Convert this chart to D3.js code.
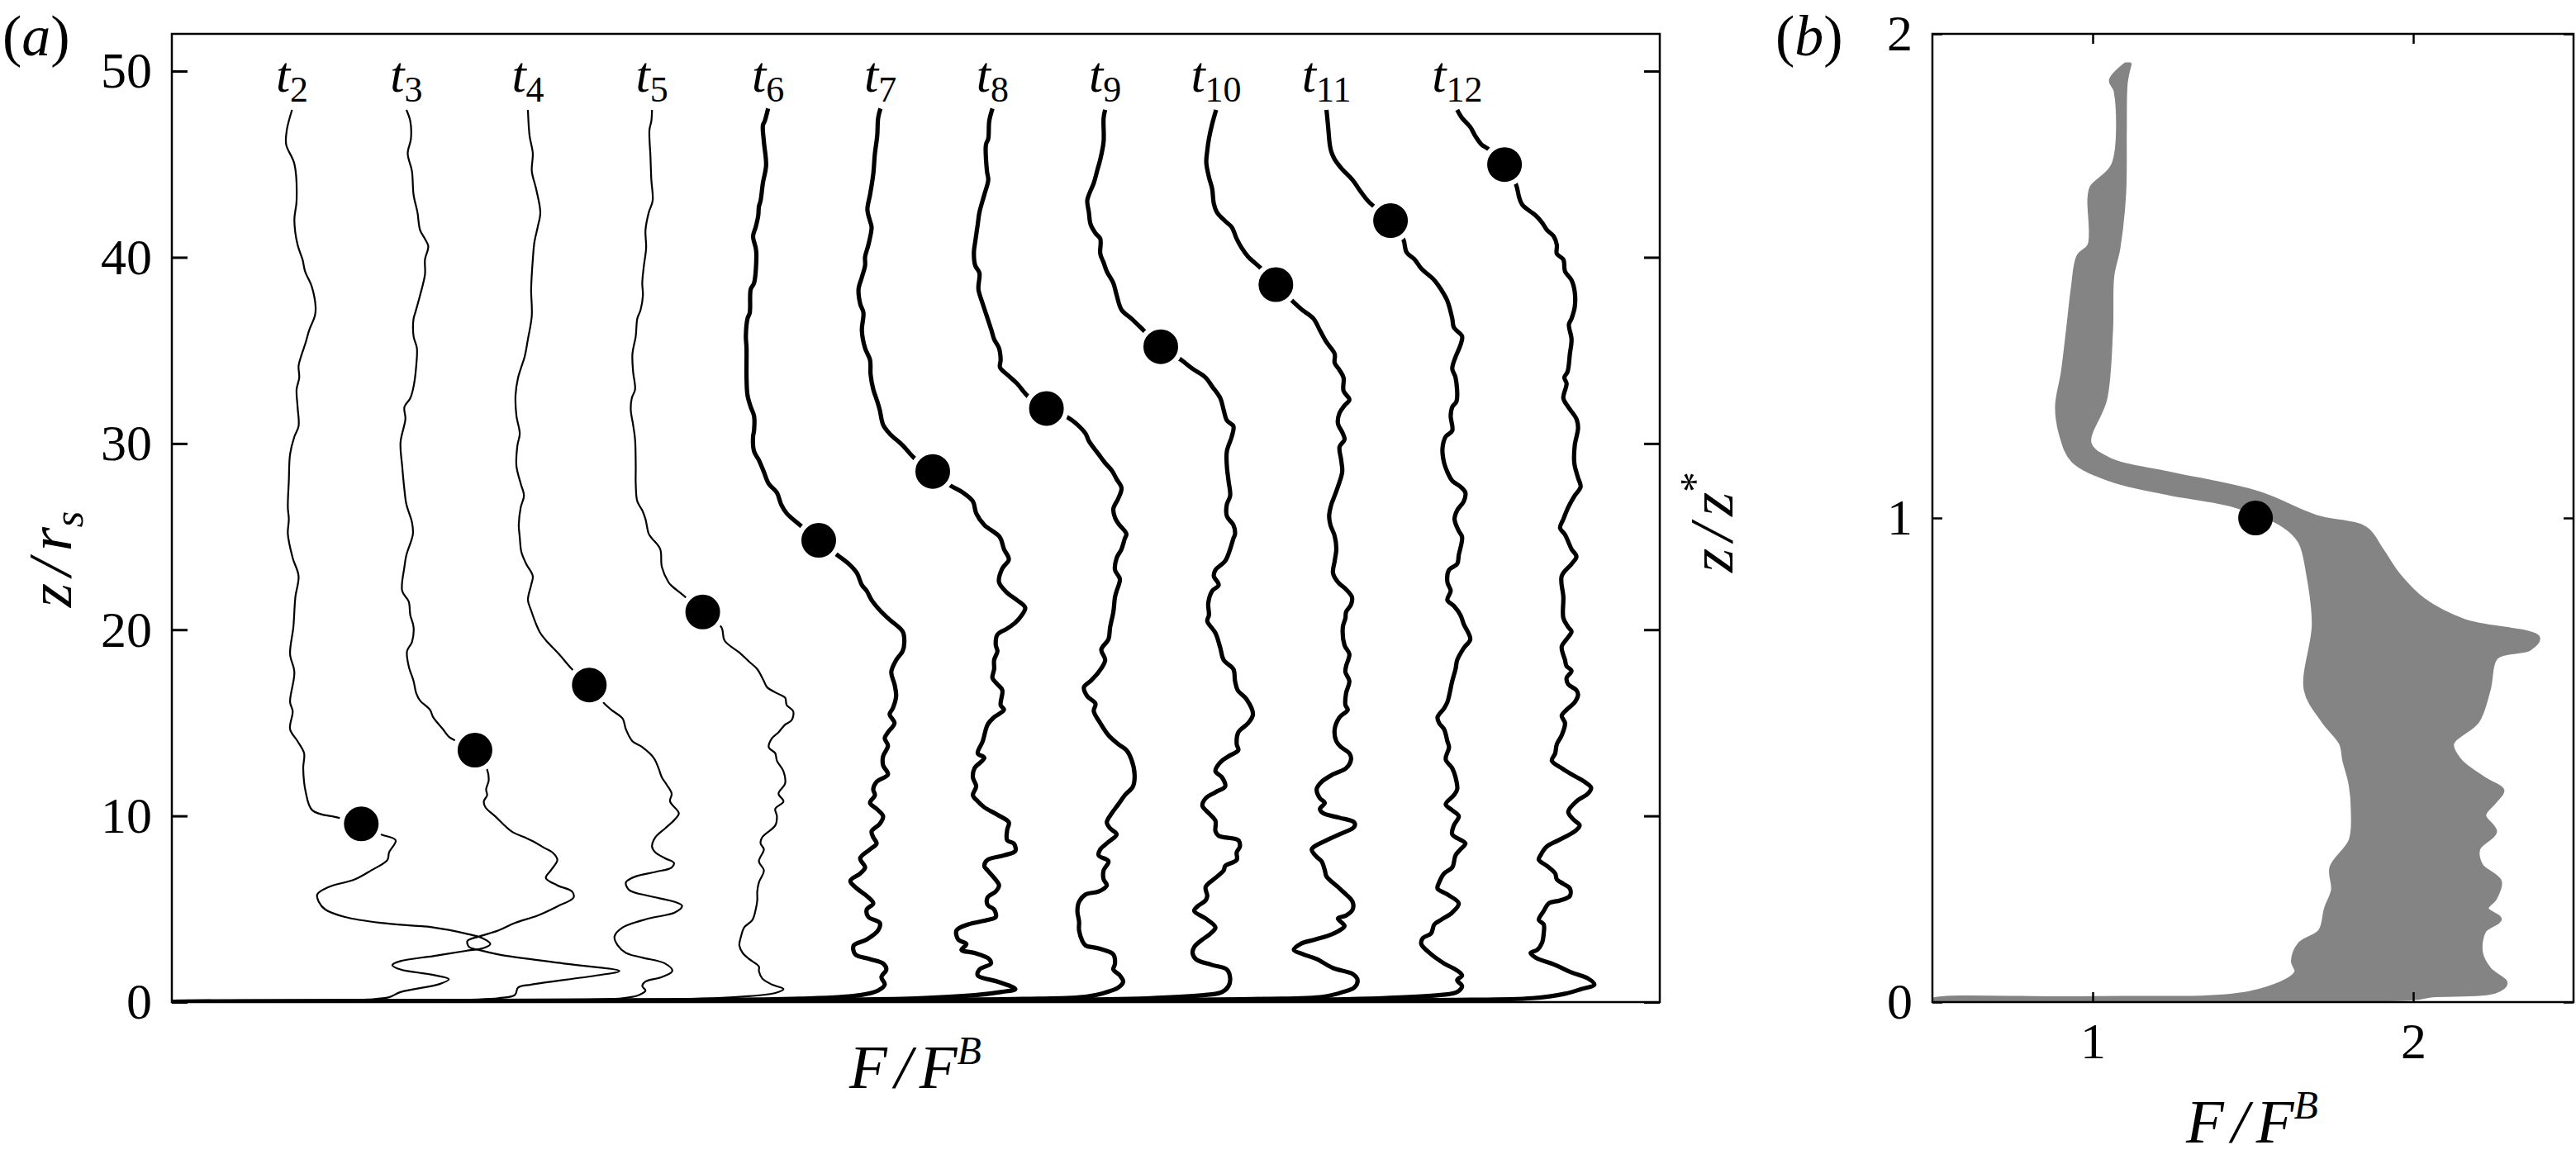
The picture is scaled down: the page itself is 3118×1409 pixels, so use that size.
<!DOCTYPE html>
<html><head><meta charset="utf-8">
<script src="https://cdn.jsdelivr.net/npm/d3@7"></script>
<style>
body{margin:0;background:#fff}
svg{display:block}
text{font-family:"Liberation Serif","Times New Roman",serif;fill:#000}
</style>
</head><body>
<svg id="c" width="3118" height="1409"></svg>
<script>
// ---------- data ----------
const zTicksA = [0, 10, 20, 30, 40, 50];
const fTicksB = [1, 2];
const zTicksB = [0, 1, 2];
const timeLabels = ["2","3","4","5","6","7","8","9","10","11","12"];

// profiles of panel (a): [F (shifted, arbitrary units), z/r_s]
const t2 = [[1.455,47.92],[1.392,46.85],[1.384,46.05],[1.483,45.02],[1.510,43.04],[1.483,42.01],[1.522,40.67],[1.582,39.88],[1.613,39.24],[1.692,38.45],[1.740,37.34],[1.732,36.87],[1.661,36.07],[1.621,35.44],[1.562,34.65],[1.534,34.17],[1.542,33.54],[1.510,32.91],[1.522,31.96],[1.534,30.93],[1.483,30.37],[1.431,29.42],[1.416,28.00],[1.404,26.57],[1.416,25.94],[1.404,25.14],[1.463,23.85],[1.534,22.88],[1.495,21.75],[1.471,20.14],[1.431,18.69],[1.483,17.72],[1.431,16.11],[1.463,15.62],[1.431,14.65],[1.522,14.01],[1.601,13.36],[1.590,12.56],[1.621,11.27],[1.700,10.30],[2.017,9.90],[2.293,9.57],[2.531,9.01],[2.709,8.69],[2.629,8.04],[2.610,7.64],[2.412,7.07],[2.214,6.59],[1.898,6.18],[1.760,5.78],[1.779,5.38],[1.858,4.97],[2.096,4.57],[2.531,4.25],[3.163,4.01],[3.559,3.68],[3.756,3.44],[3.855,3.12],[3.776,2.91],[3.559,2.75],[3.163,2.47],[2.768,2.20],[2.669,1.99],[2.768,1.75],[3.163,1.46],[3.353,1.23],[3.242,0.97],[2.768,0.54],[2.629,0.26],[2.372,0.14],[1.5,0.05],[0,0]];
const t3 = [[2.839,47.92],[2.886,47.32],[2.894,46.37],[2.855,45.58],[2.906,44.63],[2.926,43.36],[2.973,42.41],[3.005,41.46],[3.064,40.99],[3.104,40.59],[3.064,39.88],[3.064,39.08],[3.005,37.97],[2.946,37.02],[2.926,36.71],[2.926,35.76],[2.966,35.12],[2.958,34.17],[2.926,33.06],[2.886,32.43],[2.815,31.96],[2.827,31.32],[2.768,30.06],[2.788,28.79],[2.815,27.52],[2.839,26.73],[2.906,25.78],[2.918,25.14],[2.839,24.01],[2.815,23.37],[2.788,22.08],[2.867,21.51],[2.886,20.79],[2.926,20.14],[2.906,19.33],[2.847,18.85],[2.867,18.04],[2.926,17.24],[2.958,16.59],[3.005,16.19],[3.124,15.70],[3.163,15.30],[3.282,14.65],[3.353,14.25],[3.432,14.04],[3.669,13.53],[3.816,12.48],[3.835,11.91],[3.804,11.43],[3.816,11.11],[3.776,10.78],[3.796,10.46],[3.914,9.98],[4.112,9.17],[4.270,8.85],[4.389,8.60],[4.508,8.28],[4.606,8.04],[4.666,7.64],[4.587,7.07],[4.527,6.67],[4.666,6.27],[4.844,5.94],[4.863,5.62],[4.666,5.14],[4.428,4.65],[4.152,4.25],[3.954,3.85],[3.717,3.52],[3.578,3.28],[3.598,2.96],[3.717,2.80],[3.954,2.56],[4.745,2.07],[5.417,1.67],[5.140,1.43],[4.349,0.94],[4.191,0.78],[4.152,0.38],[3.954,0.21],[3.0,0.09],[1.5,0.04],[0,0]];
const t4 = [[4.310,47.92],[4.330,46.53],[4.369,45.58],[4.357,44.63],[4.409,43.68],[4.460,42.41],[4.428,41.62],[4.389,40.83],[4.369,39.88],[4.349,38.29],[4.357,36.87],[4.310,35.60],[4.270,34.65],[4.223,34.01],[4.191,33.54],[4.160,32.59],[4.171,31.48],[4.211,30.53],[4.183,29.90],[4.171,28.79],[4.223,27.84],[4.262,27.20],[4.223,26.57],[4.199,25.62],[4.211,24.98],[4.231,24.17],[4.290,23.53],[4.369,22.88],[4.349,22.40],[4.310,21.59],[4.349,21.03],[4.409,20.30],[4.460,19.82],[4.547,19.33],[4.686,18.69],[4.844,17.88],[5.053,17.03],[5.219,16.11],[5.318,15.70],[5.457,15.22],[5.496,14.65],[5.575,14.01],[5.694,13.69],[5.832,13.12],[5.891,12.56],[5.931,12.07],[5.990,11.67],[6.050,11.19],[6.030,10.78],[6.137,10.14],[6.089,9.82],[5.971,9.33],[5.852,8.85],[5.812,8.36],[5.852,8.04],[5.971,7.72],[6.077,7.48],[6.050,7.23],[5.852,6.99],[5.615,6.75],[5.496,6.43],[5.536,6.02],[5.773,5.70],[6.089,5.38],[6.176,5.17],[6.089,4.81],[5.773,4.49],[5.457,4.01],[5.358,3.52],[5.397,3.04],[5.496,2.64],[5.694,2.39],[5.971,2.07],[6.058,1.67],[5.931,1.34],[5.733,1.10],[5.694,0.86],[5.733,0.62],[5.654,0.38],[5.457,0.21],[4.5,0.1],[3,0.05],[0,0]];
const t5 = [[5.812,47.92],[5.804,47.32],[5.781,46.85],[5.793,45.42],[5.804,44.15],[5.820,43.04],[5.773,42.41],[5.733,41.46],[5.741,40.51],[5.714,39.56],[5.694,38.61],[5.702,37.97],[5.674,37.18],[5.634,36.71],[5.615,35.76],[5.575,34.81],[5.583,33.86],[5.607,32.91],[5.567,32.43],[5.555,31.80],[5.583,31.01],[5.607,30.21],[5.615,28.79],[5.615,27.84],[5.634,26.89],[5.694,26.41],[5.733,25.94],[5.773,25.14],[5.812,24.90],[5.911,24.33],[5.931,23.37],[6.010,22.56],[6.039,22.40],[6.217,21.75],[6.426,20.95],[6.651,20.14],[6.691,19.41],[6.869,18.77],[6.988,18.28],[7.086,17.88],[7.166,17.24],[7.205,16.91],[7.324,16.59],[7.423,16.35],[7.442,15.95],[7.521,15.62],[7.502,15.14],[7.423,14.90],[7.343,14.49],[7.264,14.17],[7.225,13.69],[7.304,13.36],[7.324,12.96],[7.403,12.40],[7.423,11.75],[7.343,11.19],[7.403,10.78],[7.304,10.38],[7.324,9.98],[7.304,9.49],[7.146,8.85],[7.126,8.52],[7.166,8.20],[7.106,7.56],[7.166,7.07],[7.106,6.43],[7.086,5.94],[7.086,5.46],[7.067,4.97],[7.027,4.41],[6.928,4.01],[6.889,3.52],[6.869,3.04],[6.909,2.64],[6.988,2.31],[7.106,1.91],[7.106,1.67],[7.146,1.27],[7.264,0.94],[7.403,0.70],[7.304,0.49],[6.909,0.29],[6.0,0.13],[4.5,0.07],[0,0]];
const t6 = [[7.217,47.99],[7.177,47.32],[7.154,47.08],[7.166,46.21],[7.193,44.94],[7.154,43.99],[7.126,43.04],[7.106,42.73],[7.098,42.25],[7.067,41.62],[7.035,41.14],[7.067,40.51],[7.075,40.19],[7.047,38.61],[7.007,38.29],[6.995,37.02],[6.968,36.71],[6.948,35.76],[6.956,35.12],[6.956,33.54],[6.968,32.59],[7.007,31.96],[7.047,31.48],[7.047,30.69],[7.035,30.37],[7.047,29.58],[7.106,29.10],[7.166,28.47],[7.225,27.84],[7.324,27.36],[7.375,26.73],[7.442,26.25],[7.581,25.70],[7.83,24.8],[8.055,24.01],[8.194,23.53],[8.292,23.04],[8.352,22.40],[8.411,22.08],[8.470,21.59],[8.589,20.95],[8.688,20.54],[8.846,19.90],[8.866,19.33],[8.846,18.85],[8.767,18.37],[8.708,17.72],[8.747,17.07],[8.767,16.43],[8.727,15.78],[8.688,15.46],[8.747,14.98],[8.668,14.49],[8.629,14.17],[8.668,13.77],[8.609,13.20],[8.609,12.72],[8.668,12.23],[8.530,11.83],[8.490,11.43],[8.510,11.11],[8.451,10.70],[8.530,10.38],[8.609,9.98],[8.569,9.57],[8.470,9.17],[8.490,8.85],[8.530,8.52],[8.451,8.20],[8.332,7.72],[8.391,7.23],[8.332,6.91],[8.213,6.51],[8.292,6.10],[8.411,5.70],[8.490,5.30],[8.411,4.97],[8.431,4.57],[8.569,4.25],[8.549,3.85],[8.411,3.36],[8.253,3.04],[8.273,2.56],[8.451,2.31],[8.609,2.07],[8.648,1.75],[8.589,1.34],[8.629,0.94],[8.549,0.62],[8.332,0.37],[7.6,0.18],[6,0.1],[0,0.02]];
const t7 = [[8.577,47.99],[8.549,47.48],[8.538,46.53],[8.510,45.58],[8.490,44.47],[8.451,43.36],[8.419,42.57],[8.451,41.94],[8.470,41.62],[8.431,40.67],[8.391,40.03],[8.391,39.56],[8.352,38.93],[8.312,38.29],[8.332,37.50],[8.371,37.02],[8.352,36.07],[8.391,35.12],[8.451,34.49],[8.458,33.70],[8.490,32.91],[8.538,32.27],[8.569,31.80],[8.609,31.01],[8.688,30.53],[8.846,29.90],[8.984,29.23],[9.210,28.50],[9.419,27.76],[9.577,27.36],[9.696,26.89],[9.736,26.25],[9.834,25.62],[10.02,24.98],[10.072,24.33],[10.131,23.77],[10.052,23.29],[10.012,22.56],[10.111,21.98],[10.230,21.59],[10.329,21.19],[10.289,20.79],[10.210,20.38],[10.111,20.06],[9.993,19.74],[9.973,19.17],[9.993,18.85],[9.953,18.37],[9.953,17.88],[9.933,17.40],[9.993,17.07],[10.052,16.75],[10.032,15.95],[10.072,15.70],[9.953,15.30],[9.874,14.90],[9.815,14.01],[9.755,13.36],[9.834,13.12],[9.716,12.56],[9.696,12.07],[9.736,11.59],[9.696,11.11],[9.755,10.78],[9.834,10.46],[9.993,10.06],[10.131,9.65],[10.111,9.25],[10.111,8.69],[10.190,8.52],[10.210,8.12],[10.072,7.88],[9.874,7.64],[9.834,7.31],[9.874,7.07],[9.953,6.67],[10.012,6.27],[9.973,5.94],[9.874,5.62],[9.874,5.22],[9.953,4.97],[9.973,4.57],[9.874,4.41],[9.637,4.17],[9.498,3.85],[9.518,3.36],[9.617,3.12],[9.558,2.80],[9.716,2.64],[9.894,2.31],[9.914,2.07],[9.775,1.75],[9.755,1.43],[9.993,1.10],[10.210,0.70],[10.032,0.54],[9.716,0.37],[9.0,0.2],[7.5,0.11],[0,0.02]];
const t8 = [[9.933,47.99],[9.894,47.32],[9.882,46.37],[9.854,46.05],[9.866,44.63],[9.882,44.15],[9.834,43.36],[9.775,42.41],[9.755,41.78],[9.724,40.83],[9.708,40.27],[9.724,39.56],[9.775,39.16],[9.763,38.29],[9.815,37.50],[9.874,36.71],[9.921,36.07],[9.953,35.60],[10.012,35.12],[10.032,34.49],[10.024,34.09],[10.111,33.70],[10.230,33.22],[10.368,32.51],[10.586,31.88],[10.843,31.40],[10.961,31.01],[11.060,30.53],[11.100,30.13],[11.218,29.42],[11.297,28.95],[11.377,28.55],[11.436,28.08],[11.495,27.60],[11.456,27.05],[11.396,26.49],[11.416,26.02],[11.456,25.70],[11.554,25.14],[11.535,24.90],[11.495,24.33],[11.436,23.85],[11.416,23.21],[11.475,22.72],[11.436,22.08],[11.416,21.75],[11.396,20.95],[11.357,20.14],[11.337,19.49],[11.250,18.93],[11.297,18.37],[11.218,17.72],[11.120,17.24],[11.040,16.91],[11.080,16.43],[11.179,16.03],[11.159,15.62],[11.238,14.98],[11.337,14.33],[11.456,13.85],[11.554,13.53],[11.614,13.04],[11.653,12.23],[11.634,11.59],[11.535,11.11],[11.456,10.62],[11.377,10.14],[11.317,9.65],[11.357,9.33],[11.436,9.01],[11.337,8.60],[11.238,8.20],[11.218,7.88],[11.337,7.56],[11.278,7.07],[11.278,6.59],[11.317,6.27],[11.218,5.94],[11.060,5.78],[10.981,5.38],[10.961,4.89],[10.981,4.33],[10.981,3.85],[11.021,3.28],[11.060,3.04],[11.218,2.88],[11.396,2.56],[11.416,2.07],[11.396,1.75],[11.475,1.43],[11.515,1.10],[11.456,0.78],[11.258,0.46],[11.060,0.29],[10.3,0.17],[8.5,0.1],[0,0.02]];
const t9 = [[11.297,47.92],[11.278,47.48],[11.278,46.21],[11.238,45.26],[11.199,44.63],[11.159,43.99],[11.100,43.36],[11.080,43.04],[11.100,42.41],[11.120,41.78],[11.179,41.30],[11.238,40.99],[11.238,40.19],[11.278,39.72],[11.317,39.24],[11.396,38.61],[11.436,37.97],[11.495,37.18],[11.614,36.71],[11.764,36.07],[11.970,35.20],[12.217,34.49],[12.355,34.01],[12.513,33.54],[12.592,33.06],[12.691,32.43],[12.731,31.80],[12.770,31.24],[12.849,30.93],[12.829,30.37],[12.770,29.58],[12.770,28.79],[12.790,28.00],[12.810,27.20],[12.770,26.73],[12.770,26.10],[12.849,25.62],[12.869,25.14],[12.849,24.90],[12.810,24.33],[12.750,23.69],[12.632,23.21],[12.612,22.88],[12.671,22.40],[12.592,22.08],[12.545,21.43],[12.553,20.79],[12.533,20.46],[12.632,19.82],[12.691,19.01],[12.731,18.37],[12.849,17.88],[12.869,17.24],[12.901,16.75],[13.007,16.27],[13.086,15.46],[13.027,14.98],[12.909,14.49],[12.889,13.85],[12.909,13.53],[12.790,13.20],[12.691,12.88],[12.632,12.40],[12.711,12.07],[12.750,11.59],[12.632,11.27],[12.513,10.94],[12.474,10.54],[12.553,10.14],[12.632,9.73],[12.632,9.17],[12.671,8.93],[12.909,8.69],[12.928,8.36],[12.889,8.04],[12.889,7.64],[12.750,7.31],[12.731,7.07],[12.632,6.67],[12.513,6.18],[12.533,5.70],[12.513,5.46],[12.414,5.14],[12.375,4.89],[12.513,4.49],[12.632,4.01],[12.572,3.68],[12.474,3.36],[12.375,2.96],[12.355,2.64],[12.394,2.31],[12.592,1.99],[12.770,1.75],[12.810,1.27],[12.790,0.86],[12.711,0.54],[12.513,0.38],[11.8,0.2],[10,0.1],[0,0.02]];
const t10 = [[12.640,47.92],[12.592,47.16],[12.553,46.37],[12.533,45.74],[12.521,45.10],[12.553,44.31],[12.592,43.68],[12.612,42.89],[12.651,42.41],[12.750,41.94],[12.829,41.62],[12.889,40.99],[12.948,40.51],[13.027,40.03],[13.165,39.48],[13.363,38.53],[13.561,37.66],[13.680,37.18],[13.818,36.71],[13.897,36.07],[13.976,35.44],[14.075,34.81],[14.075,34.33],[14.134,33.94],[14.182,33.54],[14.182,32.83],[14.253,32.35],[14.194,32.04],[14.134,31.64],[14.114,31.09],[14.174,30.53],[14.194,30.21],[14.134,29.82],[14.154,29.10],[14.166,28.47],[14.114,27.68],[14.075,27.20],[14.035,26.73],[14.008,26.10],[14.024,25.62],[14.075,25.03],[14.095,24.33],[14.075,23.69],[14.055,23.04],[14.114,22.56],[14.213,22.16],[14.284,21.75],[14.273,21.35],[14.213,20.95],[14.205,20.62],[14.174,20.14],[14.194,19.17],[14.253,18.69],[14.213,18.04],[14.205,17.72],[14.253,17.24],[14.213,16.59],[14.205,15.95],[14.233,15.70],[14.134,15.30],[14.075,14.65],[14.095,14.01],[14.154,13.69],[14.253,13.36],[14.273,13.04],[14.213,12.56],[14.055,12.23],[13.917,11.83],[13.857,11.43],[13.897,10.94],[13.956,10.70],[13.897,10.38],[13.937,10.14],[14.134,9.90],[14.312,9.65],[14.312,9.41],[14.134,9.01],[13.976,8.69],[13.798,8.20],[13.857,7.80],[13.917,7.56],[13.956,7.07],[13.976,6.75],[14.114,6.18],[14.213,5.78],[14.292,5.38],[14.292,4.97],[14.213,4.65],[14.114,4.49],[14.194,4.09],[14.134,3.85],[14.016,3.60],[13.838,3.36],[13.660,3.12],[13.581,2.80],[13.699,2.56],[13.857,2.31],[14.055,1.83],[14.292,1.51],[14.352,1.18],[14.312,0.78],[14.174,0.54],[13.937,0.29],[13.2,0.17],[11.5,0.1],[0,0.02]];
const t11 = [[13.976,47.92],[13.996,47.00],[14.016,46.05],[14.035,45.66],[14.075,45.26],[14.154,44.79],[14.292,44.15],[14.391,43.52],[14.490,42.97],[14.751,41.97],[14.905,40.98],[14.945,40.27],[15.044,39.88],[15.123,39.40],[15.281,38.77],[15.360,38.29],[15.439,37.66],[15.498,36.71],[15.518,36.23],[15.617,35.76],[15.597,35.28],[15.538,34.65],[15.498,34.01],[15.538,33.54],[15.550,32.27],[15.498,31.96],[15.479,31.48],[15.498,30.69],[15.419,30.37],[15.380,29.74],[15.400,28.95],[15.439,28.47],[15.498,28.00],[15.597,27.68],[15.657,27.36],[15.637,26.89],[15.558,26.41],[15.526,25.94],[15.577,25.30],[15.617,24.98],[15.577,24.01],[15.558,23.53],[15.459,23.21],[15.439,22.56],[15.479,22.08],[15.439,21.59],[15.518,21.27],[15.597,20.79],[15.637,20.30],[15.716,19.49],[15.637,19.01],[15.558,18.37],[15.538,17.88],[15.498,17.24],[15.459,16.43],[15.439,16.11],[15.400,15.78],[15.320,15.30],[15.340,14.98],[15.400,14.65],[15.439,14.01],[15.459,13.69],[15.419,13.04],[15.498,12.56],[15.538,12.07],[15.558,11.43],[15.518,11.11],[15.419,10.62],[15.498,10.30],[15.577,9.98],[15.518,9.49],[15.498,9.01],[15.657,8.52],[15.597,8.20],[15.538,7.88],[15.498,7.23],[15.400,6.91],[15.340,6.43],[15.320,6.10],[15.439,5.78],[15.577,5.30],[15.498,4.81],[15.360,4.41],[15.281,4.17],[15.241,3.68],[15.143,3.44],[15.123,3.12],[15.202,2.72],[15.400,2.07],[15.538,1.75],[15.617,1.43],[15.558,1.18],[15.617,0.86],[15.558,0.54],[15.360,0.38],[14.6,0.2],[12.8,0.1],[0,0.02]];
const t12 = [[15.558,47.92],[15.617,47.48],[15.716,47.00],[15.775,46.53],[15.854,46.05],[15.933,45.82],[16.131,44.98],[16.269,43.92],[16.309,43.20],[16.348,42.81],[16.507,42.25],[16.586,41.86],[16.645,41.46],[16.724,41.14],[16.764,40.67],[16.764,40.19],[16.843,39.88],[16.863,39.24],[16.942,38.77],[16.981,38.13],[16.981,37.34],[16.942,36.71],[16.910,36.39],[16.942,35.60],[16.922,34.81],[16.894,33.86],[16.855,33.54],[16.882,33.22],[16.843,32.43],[16.902,31.96],[17.001,31.32],[17.021,30.85],[16.981,29.90],[16.973,29.10],[16.981,28.79],[17.021,28.15],[17.052,27.68],[16.981,27.20],[16.902,26.57],[16.843,25.94],[16.803,25.46],[16.863,25.10],[16.942,24.33],[17.001,23.93],[16.942,23.53],[16.823,22.88],[16.843,21.75],[16.843,20.62],[16.902,20.14],[16.942,19.90],[16.882,19.49],[16.823,19.09],[16.863,18.37],[16.882,18.04],[16.942,17.80],[16.882,17.40],[16.902,17.07],[17.001,16.75],[17.021,16.51],[16.981,16.11],[16.882,15.70],[16.823,15.38],[16.863,14.98],[16.823,14.33],[16.764,13.85],[16.744,13.36],[16.704,12.96],[16.823,12.56],[16.942,12.23],[17.100,11.83],[17.179,11.51],[17.139,11.19],[17.001,10.78],[16.902,10.22],[16.961,9.82],[17.040,9.49],[16.981,9.17],[16.783,8.69],[16.645,8.36],[16.566,7.88],[16.546,7.64],[16.645,7.31],[16.744,6.91],[16.764,6.59],[16.843,6.35],[16.922,6.10],[16.922,5.70],[16.803,5.46],[16.665,5.30],[16.605,4.89],[16.546,4.41],[16.605,4.17],[16.605,3.68],[16.586,3.20],[16.526,2.80],[16.447,2.64],[16.507,2.39],[16.744,1.99],[16.942,1.59],[17.140,1.27],[17.218,0.94],[17.060,0.70],[16.863,0.45],[16.467,0.21],[15.5,0.12],[13.5,0.06],[0,0.02]];
const profiles = [t2, t3, t4, t5, t6, t7, t8, t9, t10, t11, t12];

// z* markers on each profile
const dotF = [2.293, 3.669, 5.053, 6.426, 7.83, 9.210, 10.586, 11.970, 13.363, 14.751, 16.131];
const dotZ = [9.57, 13.53, 17.03, 20.95, 24.8, 28.50, 31.88, 35.20, 38.53, 41.97, 44.98];

// panel (b): envelope of collapsed profiles [F/F^B, z/z*]
const bandLeft = [[1.103,1.937],[1.057,1.904],[1.072,1.882],[1.064,1.729],[0.997,1.683],[0.990,1.660],[0.990,1.563],[0.956,1.541],[0.938,1.473],[0.923,1.387],[0.907,1.30],[0.889,1.23],[0.902,1.171],[0.938,1.119],[1.057,1.079],[1.237,1.051],[1.441,1.026],[1.595,0.985],[1.647,0.951],[1.673,0.882],[1.690,0.78],[1.665,0.645],[1.72,0.58],[1.775,0.534],[1.785,0.5],[1.805,0.449],[1.812,0.392],[1.805,0.334],[1.745,0.278],[1.750,0.232],[1.728,0.193],[1.710,0.147],[1.645,0.119],[1.625,0.085],[1.635,0.061],[1.5,0.02],[1.0,0.008],[0.5,0.004]];
const bandRight = [[0.5,0.0],[1.0,0.002],[1.6,0.004],[2.0,0.008],[2.059,0.014],[2.255,0.022],[2.288,0.039],[2.237,0.068],[2.211,0.102],[2.221,0.147],[2.27,0.171],[2.229,0.193],[2.255,0.215],[2.27,0.249],[2.211,0.283],[2.203,0.317],[2.255,0.352],[2.221,0.386],[2.255,0.415],[2.278,0.437],[2.221,0.461],[2.144,0.5],[2.121,0.534],[2.2,0.58],[2.235,0.645],[2.26,0.713],[2.363,0.730],[2.389,0.753],[2.16,0.787],[2.031,0.831],[1.954,0.882],[1.902,0.933],[1.851,0.978],[1.698,1.002],[1.518,1.051],[1.237,1.092],[1.057,1.119],[0.990,1.154],[1.039,1.246],[1.057,1.387],[1.061,1.5],[1.080,1.558],[1.098,1.672],[1.10,1.8],[1.103,1.899],[1.115,1.937]];
const dotB = [1.508, 1.0];

// ---------- drawing ----------
const svg = d3.select("#c");
const FS = 62;      // tick labels
const TFS = 75;     // axis titles

// Panel (a)
const xA = d3.scaleLinear().domain([0, 18.01]).range([208, 2009]);
const yA = d3.scaleLinear().domain([0, 52]).range([1213, 41]);

const defs = svg.append("defs");
defs.append("clipPath").attr("id","clipA")
  .append("rect").attr("x",208).attr("y",41).attr("width",1801).attr("height",1172);

const line = d3.line().x(d=>xA(d[0])).y(d=>yA(d[1])).curve(d3.curveCatmullRom.alpha(0.5));
const gA = svg.append("g").attr("clip-path","url(#clipA)");
profiles.forEach((p,i)=>{
  gA.append("path").attr("d", line(p)).attr("fill","none").attr("stroke","#000")
    .attr("stroke-width", i < 4 ? 2.2 : 5.2).attr("stroke-linejoin","round").attr("stroke-linecap","butt");
});
dotF.forEach((f,i)=>{
  gA.append("circle").attr("cx", xA(f)).attr("cy", yA(dotZ[i])).attr("r", 24)
    .attr("fill","#000").attr("stroke","#fff").attr("stroke-width",6);
});

// time labels
profiles.forEach((p,i)=>{
  const t = svg.append("text").attr("x", xA(p[0][0])).attr("y", 111).attr("text-anchor","middle");
  t.append("tspan").attr("font-style","italic").attr("font-size",62).text("t");
  t.append("tspan").attr("font-size",44).attr("dy",12).text(timeLabels[i]);
});

// axes (a)
const axLA = d3.axisLeft(yA).tickValues(zTicksA).tickSize(-19).tickPadding(24).tickFormat(d3.format("d"));
const gLA = svg.append("g").attr("transform","translate(208,0)").call(axLA);
const axRA = d3.axisRight(yA).tickValues(zTicksA).tickSize(-19).tickFormat("");
const gRA = svg.append("g").attr("transform","translate(2009,0)").call(axRA);
[gLA,gRA].forEach(g=>{
  g.select(".domain").remove();
  g.selectAll(".tick line").attr("stroke","#000").attr("stroke-width",3);
  g.selectAll("text").attr("font-size",FS).attr("font-family","Liberation Serif").attr("fill","#000");
});
svg.append("rect").attr("x",208).attr("y",41).attr("width",1801).attr("height",1172)
  .attr("fill","none").attr("stroke","#000").attr("stroke-width",2.5);

// Panel (b)
const xB = d3.scaleLinear().domain([0.5, 2.5]).range([2339, 3115]);
const yB = d3.scaleLinear().domain([0, 2]).range([1213, 41]);
defs.append("clipPath").attr("id","clipB")
  .append("rect").attr("x",2339).attr("y",41).attr("width",776).attr("height",1172);
const lineB = d3.line().x(d=>xB(d[0])).y(d=>yB(d[1])).curve(d3.curveCatmullRom.alpha(0.5));
const gB = svg.append("g").attr("clip-path","url(#clipB)");
gB.append("path").attr("d", lineB(bandLeft.concat(bandRight)) + "Z")
  .attr("fill","#848484").attr("stroke","#848484").attr("stroke-width",5).attr("stroke-linejoin","round");
gB.append("circle").attr("cx", xB(dotB[0])).attr("cy", yB(dotB[1])).attr("r", 21)
  .attr("fill","#000");

const axLB = d3.axisLeft(yB).tickValues(zTicksB).tickSize(-12).tickPadding(24).tickFormat(d3.format("d"));
const axRB = d3.axisRight(yB).tickValues(zTicksB).tickSize(-12).tickFormat("");
const axBB = d3.axisBottom(xB).tickValues(fTicksB).tickSize(-12).tickPadding(24).tickFormat(d3.format("d"));
const axTB = d3.axisTop(xB).tickValues(fTicksB).tickSize(-12).tickFormat("");
const gs = [
  svg.append("g").attr("transform","translate(2339,0)").call(axLB),
  svg.append("g").attr("transform","translate(3115,0)").call(axRB),
  svg.append("g").attr("transform","translate(0,1213)").call(axBB),
  svg.append("g").attr("transform","translate(0,41)").call(axTB)
];
gs.forEach(g=>{
  g.select(".domain").remove();
  g.selectAll(".tick line").attr("stroke","#000").attr("stroke-width",2.5);
  g.selectAll("text").attr("font-size",FS).attr("font-family","Liberation Serif").attr("fill","#000");
});
svg.append("rect").attr("x",2339).attr("y",41).attr("width",776).attr("height",1172)
  .attr("fill","none").attr("stroke","#000").attr("stroke-width",2.5);

// axis titles
function fOverFB(x, y){
  const t = svg.append("text").attr("x",x).attr("y",y).attr("text-anchor","middle").attr("font-size",TFS);
  t.append("tspan").attr("font-style","italic").text("F");
  t.append("tspan").attr("font-style","italic").attr("dx",9).text("/");
  t.append("tspan").attr("font-style","italic").attr("dx",9).text("F");
  t.append("tspan").attr("font-style","italic").attr("font-size",48).attr("dy",-29).text("B");
}
fOverFB(1108, 1317);
fOverFB(2726, 1383);

const zr = svg.append("text").attr("transform","translate(86,677) rotate(-90)").attr("text-anchor","middle").attr("font-size",TFS);
zr.append("tspan").attr("font-style","italic").text("z");
zr.append("tspan").attr("font-style","italic").attr("dx",9).text("/");
zr.append("tspan").attr("font-style","italic").attr("dx",9).text("r");
zr.append("tspan").attr("font-style","italic").attr("font-size",50).attr("dy",14).text("s");

const zz = svg.append("text").attr("transform","translate(2097,632) rotate(-90)").attr("text-anchor","middle").attr("font-size",TFS);
zz.append("tspan").attr("font-style","italic").text("z");
zz.append("tspan").attr("font-style","italic").attr("dx",9).text("/");
zz.append("tspan").attr("font-style","italic").attr("dx",9).text("z");
zz.append("tspan").attr("font-size",50).attr("dy",-29).text("*");

// panel letters
function panelLetter(x, letter){
  const t = svg.append("text").attr("x",x).attr("y",67).attr("font-size",70);
  t.append("tspan").text("(");
  t.append("tspan").attr("font-style","italic").text(letter);
  t.append("tspan").text(")");
}
panelLetter(3, "a");
panelLetter(2149, "b");
</script>
</body></html>
